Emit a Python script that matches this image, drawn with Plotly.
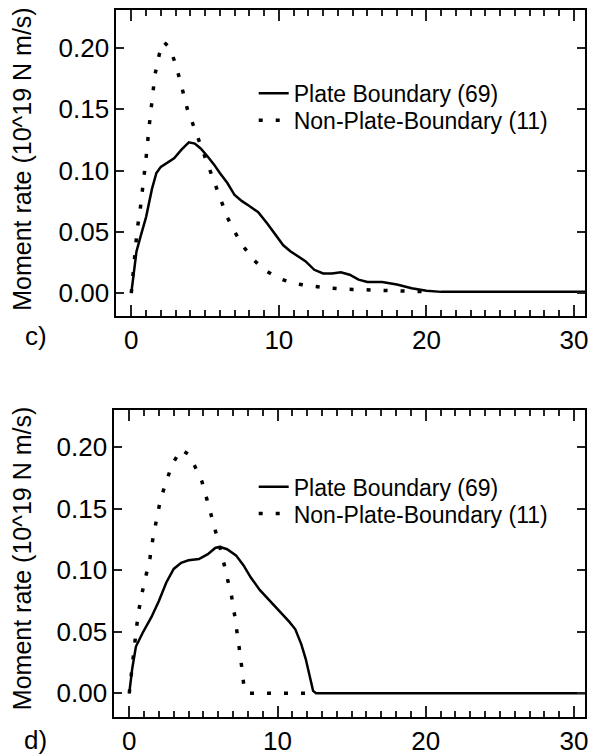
import plotly.graph_objects as go

# ---------------- data ----------------
# panel c)
c_plate_t = [0, 0.2, 0.35, 0.6, 1.0, 1.4, 1.7, 2.0, 2.4, 2.9, 3.4, 3.9, 4.3, 4.7, 5.2, 5.6,
             6.0, 6.5, 7.0, 7.5, 8.0, 8.6, 9.2, 9.8, 10.3, 10.8, 11.3, 11.8, 12.4, 13.0,
             13.6, 14.2, 14.8, 15.4, 16.0, 17.0, 18.0, 19.0, 20.0, 21.0, 22.0, 25.0, 31.0]
c_plate_m = [0.0, 0.018, 0.034, 0.045, 0.062, 0.085, 0.098, 0.103, 0.106, 0.110, 0.117,
             0.123, 0.122, 0.118, 0.111, 0.105, 0.098, 0.090, 0.080, 0.075, 0.071, 0.066,
             0.057, 0.047, 0.039, 0.034, 0.030, 0.026, 0.019, 0.016, 0.016, 0.017, 0.015,
             0.011, 0.009, 0.009, 0.007, 0.004, 0.002, 0.001, 0.001, 0.001, 0.001]

c_nonplate_t = [0, 0.2, 0.4, 0.6, 0.8, 1.0, 1.2, 1.4, 1.6, 1.9, 2.2, 2.6, 3.0, 3.4, 3.8,
                4.2, 4.6, 5.0, 5.5, 6.0, 6.5, 7.0, 7.6, 8.3, 9.0, 10.0, 11.0, 12.0, 13.5,
                15.0, 17.0, 19.0, 20.5]
c_nonplate_m = [0.0, 0.030, 0.052, 0.068, 0.088, 0.110, 0.135, 0.158, 0.178, 0.195, 0.205,
                0.200, 0.187, 0.169, 0.150, 0.137, 0.124, 0.110, 0.094, 0.078, 0.062,
                0.050, 0.038, 0.027, 0.019, 0.012, 0.008, 0.006, 0.004, 0.003, 0.002,
                0.0015, 0.001]

# panel d)
d_plate_t = [0, 0.2, 0.45, 0.9, 1.5, 2.0, 2.5, 3.0, 3.5, 4.0, 4.7, 5.3, 5.8, 6.1, 6.6, 7.2,
             7.7, 8.2, 8.8, 9.5, 10.2, 10.8, 11.2, 11.6, 11.9, 12.2, 12.4, 12.6, 20.0, 31.0]
d_plate_m = [0.0, 0.020, 0.038, 0.049, 0.062, 0.075, 0.090, 0.101, 0.106, 0.108, 0.109,
             0.113, 0.118, 0.119, 0.117, 0.112, 0.104, 0.094, 0.084, 0.075, 0.066, 0.058,
             0.052, 0.040, 0.028, 0.012, 0.002, 0.0, 0.0, 0.0]

d_nonplate_t = [0, 0.2, 0.45, 0.6, 0.8, 1.1, 1.4, 1.6, 1.8, 2.1, 2.5, 2.9, 3.5, 4.0, 4.4,
                4.9, 5.25, 5.6, 5.95, 6.3, 6.6, 6.9, 7.1, 7.3, 7.45, 7.6, 7.75, 8.0, 12.3]
d_nonplate_m = [0.0, 0.024, 0.049, 0.064, 0.078, 0.094, 0.110, 0.126, 0.140, 0.157, 0.172,
                0.186, 0.198, 0.194, 0.185, 0.172, 0.157, 0.141, 0.127, 0.110, 0.094,
                0.079, 0.064, 0.049, 0.034, 0.020, 0.004, 0.0, 0.0]

series_names = ["Plate Boundary (69)", "Non-Plate-Boundary (11)"]
panel_labels = ["c)", "d)"]
y_title = "Moment rate (10^19 N m/s)"
x_ticks = [0, 10, 20, 30]

# ---------------- figure ----------------
W, H = 593, 756
FONT = "Liberation Sans, Arial, Helvetica, sans-serif"
DOT = "4px,13px"
SOLID = dict(color="black", width=2.5)
DOTTED = dict(color="black", width=3.5, dash=DOT)

fig = go.Figure()

fig.add_trace(go.Scatter(x=c_plate_t, y=c_plate_m, mode="lines", name=series_names[0],
                         line=SOLID, xaxis="x", yaxis="y", legend="legend"))
fig.add_trace(go.Scatter(x=c_nonplate_t, y=c_nonplate_m, mode="lines", name=series_names[1],
                         line=DOTTED, xaxis="x", yaxis="y", legend="legend2"))
fig.add_trace(go.Scatter(x=d_plate_t, y=d_plate_m, mode="lines", name=series_names[0],
                         line=SOLID, xaxis="x2", yaxis="y2", legend="legend3"))
fig.add_trace(go.Scatter(x=d_nonplate_t, y=d_nonplate_m, mode="lines", name=series_names[1],
                         line=DOTTED, xaxis="x2", yaxis="y2", legend="legend4"))


def xax(domain, rng, anchor):
    return dict(domain=domain, range=rng, anchor=anchor, showgrid=False, zeroline=False,
                showline=True, linecolor="black", linewidth=2, mirror="allticks",
                ticks="inside", ticklen=11, tickwidth=2, tickcolor="#222222",
                tickvals=x_ticks,
                tickfont=dict(size=26, color="black", family=FONT),
                minor=dict(dtick=1, ticks="inside", ticklen=6, tickwidth=1.5,
                           tickcolor="#222222"))


def yax(domain, rng, anchor):
    return dict(domain=domain, range=rng, anchor=anchor, showgrid=False, zeroline=False,
                showline=True, linecolor="black", linewidth=2, mirror="allticks",
                ticks="inside", ticklen=8, tickwidth=2, tickcolor="#222222",
                dtick=0.05, tickformat=".2f",
                tickfont=dict(size=26, color="black", family=FONT))


def leg(yc):
    return dict(x=255 / W, y=1 - yc / H, xanchor="left", yanchor="middle",
                bgcolor="rgba(0,0,0,0)", font=dict(size=23, color="black", family=FONT),
                tracegroupgap=0, itemwidth=30)


fig.update_layout(
    width=W, height=H,
    margin=dict(l=0, r=0, t=0, b=0),
    paper_bgcolor="white", plot_bgcolor="white",
    xaxis=xax([117 / W, 588 / W], [-1.01, 30.75], "y"),
    yaxis=yax([1 - 318 / H, 1 - 10 / H], [-0.0186, 0.231], "x"),
    xaxis2=xax([115 / W, 588 / W], [-1.0, 30.74], "y2"),
    yaxis2=yax([1 - 722 / H, 1 - 413 / H], [-0.0194, 0.2298], "x2"),
    legend=leg(94), legend2=leg(121), legend3=leg(490), legend4=leg(517),
    showlegend=True,
)

annots = []
for yc in [160, 562]:
    annots.append(dict(text=y_title, x=22 / W, y=1 - yc / H, xref="paper", yref="paper",
                       showarrow=False, textangle=-90, xanchor="center", yanchor="middle",
                       font=dict(size=25, color="black", family=FONT)))
for lab, yc in zip(panel_labels, [338, 745]):
    annots.append(dict(text=lab, x=36 / W, y=1 - yc / H, xref="paper", yref="paper",
                       showarrow=False, xanchor="center", yanchor="middle",
                       font=dict(size=26, color="black", family=FONT)))
fig.update_layout(annotations=annots)

fig.write_html("out.html")
